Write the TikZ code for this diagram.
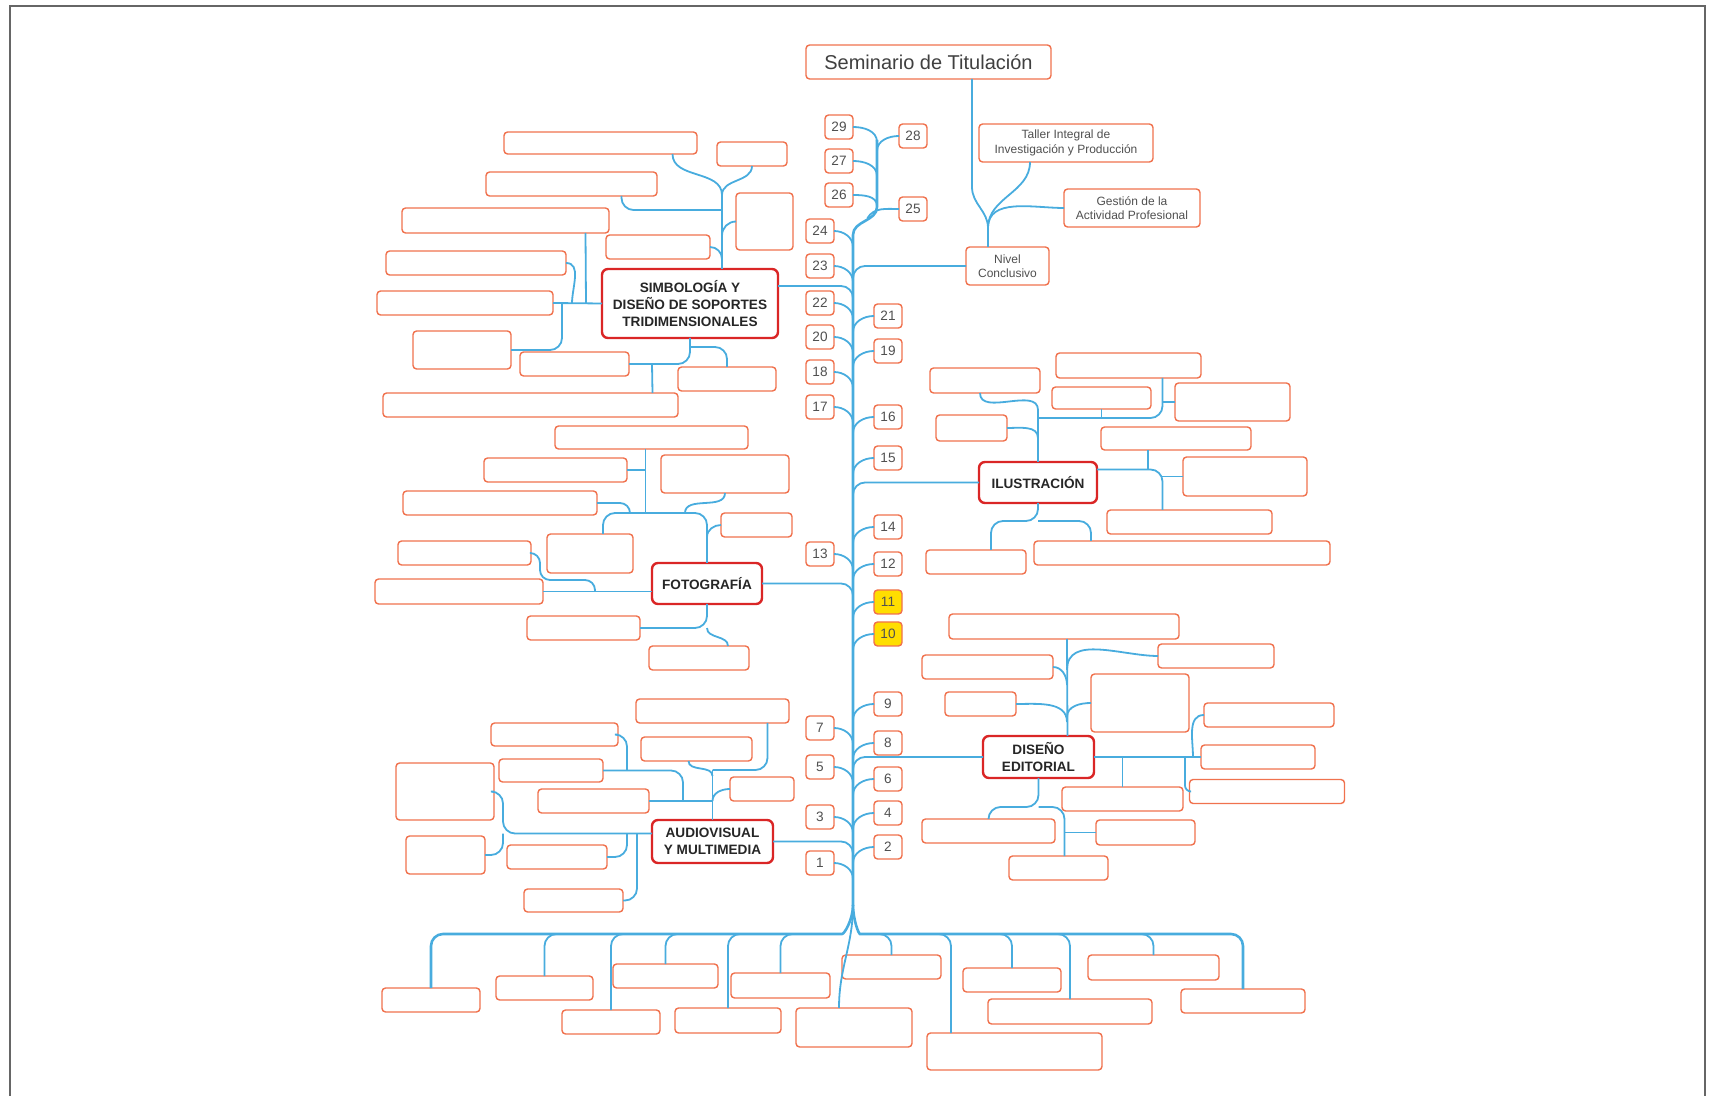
\documentclass[tikz,border=0pt]{standalone}
\usepackage{fontspec}
\setmainfont{Liberation Sans}
\usetikzlibrary{calc}
\definecolor{rama}{RGB}{72,172,222}
\definecolor{borde}{RGB}{240,114,78}
\definecolor{tema}{RGB}{218,38,38}
\definecolor{resalte}{RGB}{255,222,0}
\definecolor{tinta}{RGB}{80,80,80}
\tikzset{
    leaf/.style={draw=borde, line width=0.7pt, rounded corners=1.8pt, fill=white, inner sep=0pt, outer sep=0pt},
    sz/.style 2 args={minimum width=#1*0.5pt, minimum height=#2*0.5pt},
    num/.style={leaf, sz={28}{24}, text=tinta, font=\fontsize{6.8}{8}\selectfont},
    note/.style={leaf, align=center, text=tinta, font=\fontsize{6}{7.2}\selectfont},
    topic/.style={draw=tema, line width=1.2pt, rounded corners=3pt, fill=white, inner sep=0pt, outer sep=0pt, align=center, text=black!85, font=\bfseries\fontsize{6.8}{8.4}\selectfont},
    link/.style={draw=rama, line width=0.9pt},
    stem/.style={draw=rama, line width=1.3pt}
    }
\begin{document}
\begin{tikzpicture}[x=0.5pt, y=0.5pt]
        \useasboundingbox (0,0) rectangle (1710,-1096);
        \draw[black!60, line width=1pt] (10,-1096) -- (10,-6) -- (1705,-6) -- (1705,-1096);

        % top
        \node[note, sz={245}{34}, font=\fontsize{10}{12}\selectfont, text=black!75] (sem) at (928.5,-62) {Seminario de Titulación};
        \node[note, sz={174}{38}] (taller) at (1066,-143) {Taller Integral de\\Investigación y Producción};
        \node[note, sz={136}{38}] (gestion) at (1132,-208) {Gestión de la\\Actividad Profesional};
        \node[note, sz={83}{38}] (nivel) at (1007.5,-266) {Nivel\\Conclusivo};

        % topics
        \node[topic, sz={176}{69}] (simb) at (690,-303.5) {SIMBOLOGÍA Y\\DISEÑO DE SOPORTES\\TRIDIMENSIONALES};
        \node[topic, sz={118}{41}] (ilus) at (1038,-482.5) {ILUSTRACIÓN};
        \node[topic, sz={110}{41}] (foto) at (707,-583.5) {FOTOGRAFÍA};
        \node[topic, sz={111}{42}] (edit) at (1038.5,-757) {DISEÑO\\EDITORIAL};
        \node[topic, sz={121}{43}] (audio) at (712.5,-841.5) {AUDIOVISUAL\\Y MULTIMEDIA};

        % numbers
        \node[num] (n29) at (839,-127) {29};
        \node[num] (n28) at (913,-136) {28};
        \node[num] (n27) at (839,-161) {27};
        \node[num] (n26) at (839,-195) {26};
        \node[num] (n25) at (913,-209) {25};
        \node[num] (n24) at (820,-231) {24};
        \node[num] (n23) at (820,-266) {23};
        \node[num] (n22) at (820,-303) {22};
        \node[num] (n21) at (888,-316) {21};
        \node[num] (n20) at (820,-337) {20};
        \node[num] (n19) at (888,-351) {19};
        \node[num] (n18) at (820,-372) {18};
        \node[num] (n17) at (820,-407) {17};
        \node[num] (n16) at (888,-417) {16};
        \node[num] (n15) at (888,-458) {15};
        \node[num] (n14) at (888,-527) {14};
        \node[num] (n13) at (820,-554) {13};
        \node[num] (n12) at (888,-564) {12};
        \node[num, fill=resalte] (n11) at (888,-602) {11};
        \node[num, fill=resalte] (n10) at (888,-634) {10};
        \node[num] (n9) at (888,-704) {9};
        \node[num] (n7) at (820,-728) {7};
        \node[num] (n8) at (888,-743) {8};
        \node[num] (n5) at (820,-767) {5};
        \node[num] (n6) at (888,-779) {6};
        \node[num] (n4) at (888,-813) {4};
        \node[num] (n3) at (820,-817) {3};
        \node[num] (n2) at (888,-847) {2};
        \node[num] (n1) at (820,-863) {1};

        % simbologia
        \node[leaf, sz={193}{22}] (s1) at (600.5,-143) {};
        \node[leaf, sz={70}{24}] (s2) at (752,-154) {};
        \node[leaf, sz={171}{24}] (s3) at (571.5,-184) {};
        \node[leaf, sz={57}{57}] (s4) at (764.5,-221.5) {};
        \node[leaf, sz={207}{25}] (s5) at (505.5,-220.5) {};
        \node[leaf, sz={104}{24}] (s6) at (658,-247) {};
        \node[leaf, sz={180}{24}] (s7) at (476,-263) {};
        \node[leaf, sz={176}{24}] (s8) at (465,-303) {};
        \node[leaf, sz={98}{38}] (s9) at (462,-350) {};
        \node[leaf, sz={109}{24}] (s10) at (574.5,-364) {};
        \node[leaf, sz={98}{24}] (s11) at (727,-379) {};
        \node[leaf, sz={295}{24}] (s12) at (530.5,-405) {};

        % ilustracion
        \node[leaf, sz={145}{25}] (i1) at (1128.5,-365.5) {};
        \node[leaf, sz={110}{25}] (i2) at (985,-380.5) {};
        \node[leaf, sz={99}{22}] (i3) at (1101.5,-398) {};
        \node[leaf, sz={115}{38}] (i4) at (1232.5,-402) {};
        \node[leaf, sz={71}{26}] (i5) at (971.5,-428) {};
        \node[leaf, sz={150}{23}] (i6) at (1176,-438.5) {};
        \node[leaf, sz={124}{39}] (i7) at (1245,-476.5) {};
        \node[leaf, sz={165}{24}] (i8) at (1189.5,-522) {};
        \node[leaf, sz={100}{24}] (i9) at (976,-562) {};
        \node[leaf, sz={296}{24}] (i10) at (1182,-553) {};

        % fotografia
        \node[leaf, sz={193}{23}] (f1) at (651.5,-437.5) {};
        \node[leaf, sz={143}{24}] (f2) at (555.5,-470) {};
        \node[leaf, sz={128}{38}] (f3) at (725,-474) {};
        \node[leaf, sz={194}{24}] (f4) at (500,-503) {};
        \node[leaf, sz={71}{24}] (f5) at (756.5,-525) {};
        \node[leaf, sz={133}{24}] (f6) at (464.5,-553) {};
        \node[leaf, sz={86}{39}] (f7) at (590,-553.5) {};
        \node[leaf, sz={168}{25}] (f8) at (459,-591.5) {};
        \node[leaf, sz={113}{24}] (f9) at (583.5,-628) {};
        \node[leaf, sz={100}{24}] (f10) at (699,-658) {};

        % diseno editorial
        \node[leaf, sz={230}{25}] (d1) at (1064,-626.5) {};
        \node[leaf, sz={116}{24}] (d2) at (1216,-656) {};
        \node[leaf, sz={131}{24}] (d3) at (987.5,-667) {};
        \node[leaf, sz={98}{58}] (d4) at (1140,-703) {};
        \node[leaf, sz={71}{24}] (d5) at (980.5,-704) {};
        \node[leaf, sz={130}{24}] (d6) at (1269,-715) {};
        \node[leaf, sz={114}{24}] (d7) at (1258,-757) {};
        \node[leaf, sz={155}{24}] (d8) at (1267,-791.5) {};
        \node[leaf, sz={121}{24}] (d9) at (1122.5,-799) {};
        \node[leaf, sz={133}{24}] (d10) at (988.5,-831) {};
        \node[leaf, sz={99}{25}] (d11) at (1145.5,-832.5) {};
        \node[leaf, sz={99}{24}] (d12) at (1058.5,-868) {};

        % audiovisual
        \node[leaf, sz={153}{24}] (a1) at (712.5,-711) {};
        \node[leaf, sz={127}{23}] (a2) at (554.5,-734.5) {};
        \node[leaf, sz={111}{24}] (a3) at (696.5,-749) {};
        \node[leaf, sz={98}{57}] (a4) at (445,-791.5) {};
        \node[leaf, sz={104}{23}] (a5) at (551,-770.5) {};
        \node[leaf, sz={64}{24}] (a6) at (762,-789) {};
        \node[leaf, sz={111}{24}] (a7) at (593.5,-801) {};
        \node[leaf, sz={79}{38}] (a8) at (445.5,-855) {};
        \node[leaf, sz={100}{24}] (a9) at (557,-857) {};
        \node[leaf, sz={99}{23}] (a10) at (573.5,-900.5) {};

        % bottom row
        \node[leaf, sz={98}{24}] (b1) at (431,-1000) {};
        \node[leaf, sz={97}{24}] (b2) at (544.5,-988) {};
        \node[leaf, sz={98}{24}] (b3) at (611,-1022) {};
        \node[leaf, sz={105}{24}] (b4) at (665.5,-976) {};
        \node[leaf, sz={106}{25}] (b5) at (728,-1020.5) {};
        \node[leaf, sz={99}{25}] (b6) at (780.5,-985.5) {};
        \node[leaf, sz={116}{39}] (b7) at (854,-1027.5) {};
        \node[leaf, sz={99}{24}] (b8) at (891.5,-967) {};
        \node[leaf, sz={175}{37}] (b9) at (1014.5,-1051.5) {};
        \node[leaf, sz={98}{24}] (b10) at (1012,-980) {};
        \node[leaf, sz={164}{25}] (b11) at (1070,-1011.5) {};
        \node[leaf, sz={131}{25}] (b12) at (1153.5,-967.5) {};
        \node[leaf, sz={124}{24}] (b13) at (1243,-1001) {};

        % trunk
        \coordinate (crown) at (877,-140);
        \coordinate (neck) at (877,-207);
        \coordinate (top) at (853,-235);
        \coordinate (base) at (853,-905);
        \draw[stem] (crown) -- (neck) to[out=-90,in=90] (top) -- (base);
        \draw[link] (n29.east) to[out=0,in=90] ($(n29.east -| crown)+(0,-15)$);
        \draw[link] (n27.east) to[out=0,in=90] ($(n27.east -| crown)+(0,-15)$);
        \draw[link] (n26.east) to[out=0,in=90] ($(n26.east -| crown)+(0,-11)$);
        \draw[link] (n28.west) to[out=180,in=90] ($(n28.west -| crown)+(0,-15)$);
        \draw[link] (n25.west) to[out=180,in=60] ($(neck)!0.4!(top)$);
        \draw[link] (n24.east) to[out=0,in=90] ($(n24.east -| top)+(0,-16)$);
        \draw[link] (n23.east) to[out=0,in=90] ($(n23.east -| top)+(0,-16)$);
        \draw[link] (n22.east) to[out=0,in=90] ($(n22.east -| top)+(0,-16)$);
        \draw[link] (n20.east) to[out=0,in=90] ($(n20.east -| top)+(0,-16)$);
        \draw[link] (n18.east) to[out=0,in=90] ($(n18.east -| top)+(0,-16)$);
        \draw[link] (n17.east) to[out=0,in=90] ($(n17.east -| top)+(0,-16)$);
        \draw[link] (n13.east) to[out=0,in=90] ($(n13.east -| top)+(0,-16)$);
        \draw[link] (n7.east) to[out=0,in=90] ($(n7.east -| top)+(0,-16)$);
        \draw[link] (n5.east) to[out=0,in=90] ($(n5.east -| top)+(0,-16)$);
        \draw[link] (n3.east) to[out=0,in=90] ($(n3.east -| top)+(0,-16)$);
        \draw[link] (n1.east) to[out=0,in=90] ($(n1.east -| top)+(0,-16)$);
        \draw[link] (n21.west) to[out=180,in=90] ($(n21.west -| top)+(0,-16)$);
        \draw[link] (n19.west) to[out=180,in=90] ($(n19.west -| top)+(0,-16)$);
        \draw[link] (n16.west) to[out=180,in=90] ($(n16.west -| top)+(0,-16)$);
        \draw[link] (n15.west) to[out=180,in=90] ($(n15.west -| top)+(0,-16)$);
        \draw[link] (n14.west) to[out=180,in=90] ($(n14.west -| top)+(0,-16)$);
        \draw[link] (n12.west) to[out=180,in=90] ($(n12.west -| top)+(0,-16)$);
        \draw[link] (n11.west) to[out=180,in=90] ($(n11.west -| top)+(0,-16)$);
        \draw[link] (n10.west) to[out=180,in=90] ($(n10.west -| top)+(0,-16)$);
        \draw[link] (n9.west) to[out=180,in=90] ($(n9.west -| top)+(0,-16)$);
        \draw[link] (n8.west) to[out=180,in=90] ($(n8.west -| top)+(0,-16)$);
        \draw[link] (n6.west) to[out=180,in=90] ($(n6.west -| top)+(0,-16)$);
        \draw[link] (n4.west) to[out=180,in=90] ($(n4.west -| top)+(0,-16)$);
        \draw[link] (n2.west) to[out=180,in=90] ($(n2.west -| top)+(0,-16)$);

        % seminario and nivel
        \coordinate (knot) at (988,-228);
        \draw[link] ($(sem.south)+(43.5,0)$) -- ++(0,-108) to[out=-90,in=90] (knot) -- (knot |- nivel.north);
        \draw[link] ($(taller.south)+(-36,0)$) to[out=-90,in=90] (knot);
        \draw[link] (gestion.west) to[out=180,in=90] (knot);
        \draw[link, rounded corners=6] (nivel.west) -| ($(nivel.west -| top)+(0,-20)$);

        % simbologia edges
        \coordinate (sUp) at (722,-195);
        \draw[link] (simb.north -| sUp) -- (sUp);
        \draw[link] ($(s1.south)+(72,0)$) to[out=-90,in=90] (sUp);
        \draw[link] (s2.south) to[out=-90,in=90] (sUp);
        \draw[link, rounded corners=6] ($(s3.south)+(50,0)$) |- ($(sUp)+(0,-15)$);
        \draw[link] (s4.west) to[out=180,in=90] ($(s4.west -| sUp)+(0,-14)$);
        \draw[link] (s6.east) to[out=0,in=90] ($(s6.east -| sUp)+(0,-12)$);
        \draw[link] (simb.west) -- (s8.east);
        \draw[link] ($(s5.south)+(80,0)$) -- ($(simb.west)+(-16,0)$);
        \draw[link] (s7.east) to[out=0,in=90] ($(simb.west)+(-30,0)$);
        \draw[link, rounded corners=6] (s9.east) -| ($(simb.west)+(-40,0)$);
        \draw[link, rounded corners=6] (simb.south) |- (s10.east);
        \draw[link] ($(s10.east)+(23,0)$) -- ($(s12.north)+(122,0)$);
        \draw[link, rounded corners=6] ($(simb.south)+(0,-9)$) -| (s11.north);
        \draw[link, rounded corners=6] ($(simb.north east)+(0,-17)$) -| ($(simb.north east -| top)+(0,-35)$);

        % ilustracion edges
        \coordinate (iUp) at (1038,-410);
        \draw[link] (ilus.north) -- (iUp);
        \draw[link] ($(i2.south)+(-5,0)$) to[out=-90,in=90] (iUp);
        \draw[link] (i5.east) to[out=0,in=90] ($(i5.east -| iUp)+(0,-10)$);
        \draw[link, rounded corners=6] ($(i1.south)+(34,0)$) |- ($(ilus.north)+(0,44)$);
        \draw[link] (i3.south) -- ++(0,-9);
        \draw[link] (i4.west) -- ++(-13,0);
        \draw[link, rounded corners=6] ($(ilus.east)+(0,13)$) -| ($(i8.north)+(-27,0)$);
        \draw[link] ($(i6.south)+(-28,0)$) -- ++(0,-19);
        \draw[link] (i7.west) -- ++(-21,0);
        \draw[link, rounded corners=6] (ilus.south) -- ++(0,-18) -| ($(i9.north)+(15,0)$);
        \draw[link, rounded corners=6] ($(ilus.south)+(0,-18)$) -| ($(i10.north)+(-91,0)$);
        \draw[link, rounded corners=6] (ilus.west) -| ($(ilus.west -| top)+(0,-20)$);

        % fotografia edges
        \draw[link, rounded corners=6] (foto.north) |- ($(f7.north)+(13,21)$) -- ($(f7.north)+(13,0)$);
        \draw[link] ($(f1.south)+(-6,0)$) -- ++(0,-64);
        \draw[link] (f2.east) -- ++(18,0);
        \draw[link, rounded corners=5] (f4.east) -| ($(f4.east)+(33,-10)$);
        \draw[link] (f3.south) to[out=-90,in=90] ($(f3.south)+(-40,-20)$);
        \draw[link] (f5.west) to[out=180,in=90] ($(f5.west -| foto.north)+(0,-12)$);
        \draw[link] ($(foto.west)+(0,-8)$) -- (f8.east);
        \draw[link, rounded corners=5] (f6.east) -| ($(f6.east)+(9,-27)$) -| ($(f6.east)+(64,-38.5)$);
        \draw[link, rounded corners=6] (foto.south) |- (f9.east);
        \draw[link] ($(foto.south)+(0,-24)$) to[out=-90,in=90] ($(f10.north)+(29,0)$);
        \draw[link, rounded corners=6] (foto.east) -| ($(foto.east -| top)+(0,-20)$);

        % diseno editorial edges
        \draw[link] ($(edit.north)+(29,0)$) -- ($(d1.south)+(3,0)$);
        \draw[link] (d3.east) to[out=0,in=90] ($(d3.east)+(14,-18)$);
        \draw[link] (d2.west) to[out=180,in=90] ($(d2.west)+(-91,-14)$);
        \draw[link] (d5.east) to[out=0,in=90] ($(d5.east)+(51,-18)$);
        \draw[link] (d4.west) to[out=180,in=90] ($(d4.west)+(-24,-14)$);
        \draw[link] (edit.east) -- (d7.west);
        \draw[link] (d6.west) to[out=180,in=90] ($(d7.west)+(-8,0)$);
        \draw[link] (d9.north) -- (d9.north |- edit.east);
        \draw[link, rounded corners=3] (d8.west) -| ($(d7.west)+(-16,0)$);
        \draw[link, rounded corners=6] (edit.south) -- ++(0,-29) -| (d10.north);
        \draw[link, rounded corners=6] ($(edit.south)+(0,-29)$) -| ($(d12.north)+(6,0)$);
        \draw[link] (d11.west) -- ++(-31,0);
        \draw[link, rounded corners=6] (edit.west) -| ($(edit.west -| top)+(0,-20)$);

        % audiovisual edges
        \draw[link] (audio.north) -- ++(0,50);
        \draw[link, rounded corners=6] ($(a1.south)+(55,0)$) |- ($(audio.north)+(0,50)$);
        \draw[link] ($(a3.south)+(-8,0)$) to[out=-90,in=90] ($(audio.north)+(0,44)$);
        \draw[link] (a6.west) to[out=180,in=90] ($(a6.west -| audio.north)+(0,-12)$);
        \draw[link] (a7.east) -- (a7.east -| audio.north);
        \draw[link, rounded corners=6] (a5.east) -| ($(a7.east)+(34,0)$);
        \draw[link, rounded corners=6] (a2.east) -| ($(a5.east)+(24,0)$);
        \draw[link, rounded corners=6] (a4.east) -| ($(a4.east)+(9,-42)$) -- ($(audio.west)+(0,8)$);
        \draw[link, rounded corners=6] (a8.east) -| ($(a4.east)+(9,-42)$);
        \draw[link, rounded corners=6] (a9.east) -| ($(a9.east)+(20,23.5)$);
        \draw[link, rounded corners=6] (a10.east) -| ($(a10.east)+(14,67)$);
        \draw[link, rounded corners=6] (audio.east) -| ($(audio.east -| top)+(0,-20)$);

        % bottom fan
        \coordinate (railL) at (830,-934);
        \coordinate (railR) at (872,-934);
        \draw[stem, rounded corners=6] (base) to[out=-90,in=0] (railL) -| (b1.north);
        \draw[stem, rounded corners=6] (base) to[out=-90,in=180] (railR) -| (b13.north);
        \draw[link] (base) to[out=-90,in=90] ($(b7.north west)+(43,0)$);
        \draw[link, rounded corners=6] ($(b2.north |- railL)+(20,0)$) -| (b2.north);
        \draw[link, rounded corners=6] ($(b3.north |- railL)+(20,0)$) -| (b3.north);
        \draw[link, rounded corners=6] ($(b4.north |- railL)+(20,0)$) -| (b4.north);
        \draw[link, rounded corners=6] ($(b5.north |- railL)+(20,0)$) -| (b5.north);
        \draw[link, rounded corners=6] ($(b6.north |- railL)+(20,0)$) -| (b6.north);
        \draw[link, rounded corners=6] ($(b8.north |- railR)+(-18,0)$) -| (b8.north);
        \draw[link, rounded corners=6] ($(b9.north west |- railR)+(4,0)$) -| ($(b9.north west)+(24,0)$);
        \draw[link, rounded corners=6] ($(b10.north |- railR)+(-20,0)$) -| (b10.north);
        \draw[link, rounded corners=6] ($(b11.north |- railR)+(-20,0)$) -| (b11.north);
        \draw[link, rounded corners=6] ($(b12.north |- railR)+(-20,0)$) -| (b12.north);
    \end{tikzpicture}
\end{document}
